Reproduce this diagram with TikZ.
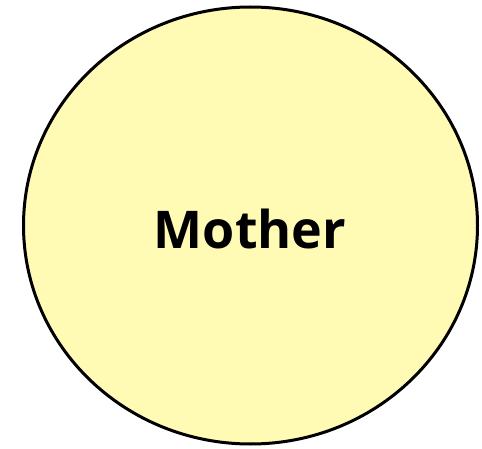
\documentclass[tikz,border=0pt]{standalone}
\usepackage{fontspec}
\setmainfont{Open Sans}
\usetikzlibrary{shapes.geometric}
\definecolor{fillyellow}{RGB}{255,250,180}
\tikzset{bubble/.style={ellipse,draw=black,fill=fillyellow,line width=3pt,minimum width=454pt,minimum height=437pt,inner sep=0pt}}
\begin{document}
\begin{tikzpicture}[x=1pt,y=-1pt]
\useasboundingbox (0,0) rectangle (482,449);
\node[bubble] (mother) at (250.5,225.5) {};
\node[font=\fontsize{52}{60}\selectfont\bfseries,anchor=base] (label) at (250,248) {Mother};
\end{tikzpicture}
\end{document}
